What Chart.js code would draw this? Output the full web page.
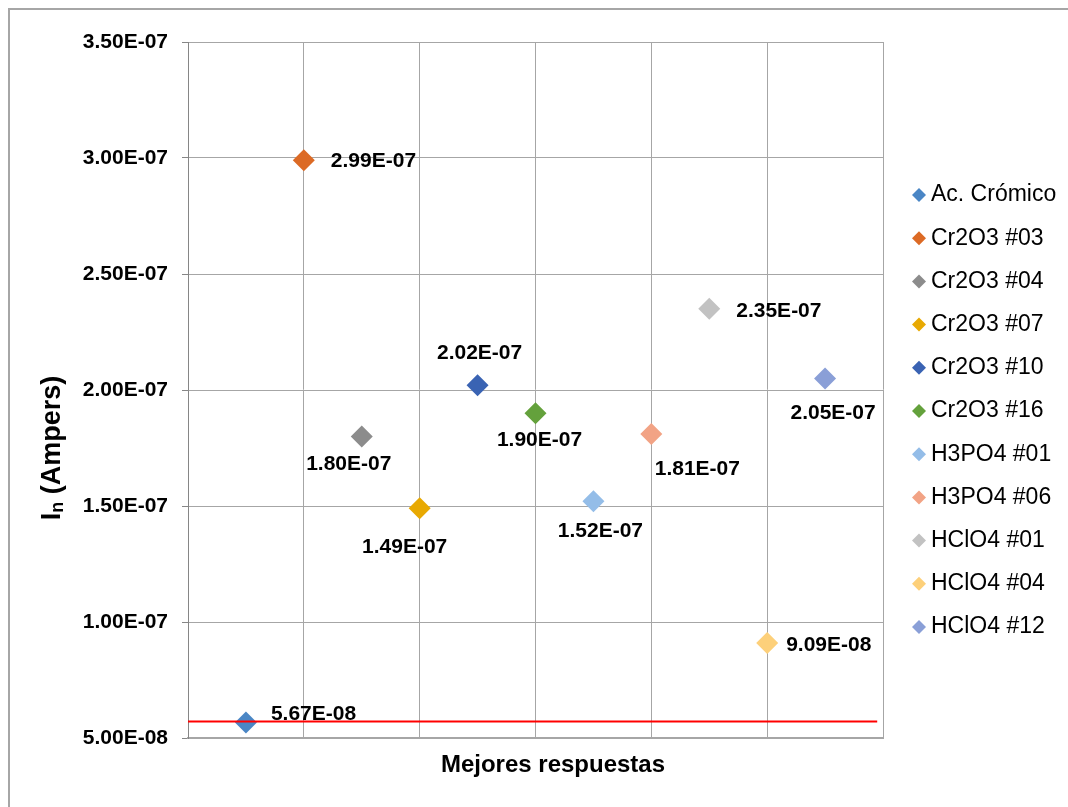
<!DOCTYPE html>
<html lang="es">
<head>
  <meta charset="UTF-8" />
  <title>Mejores respuestas</title>
  <script src="https://cdn.jsdelivr.net/npm/chart.js"></script>
  <style>
    body {
      margin: 0;
      background: #ffffff;
    }
    canvas {
      display: block;
    }
  </style>
</head>
<body>
  <canvas id="grafico" width="1068" height="807"></canvas>

  <script>
    // datos
    const series = ['Ac. Crómico', 'Cr2O3 #03', 'Cr2O3 #04', 'Cr2O3 #07', 'Cr2O3 #10', 'Cr2O3 #16',
                    'H3PO4 #01', 'H3PO4 #06', 'HClO4 #01', 'HClO4 #04', 'HClO4 #12'];
    const posX = [0.5, 1, 1.5, 2, 2.5, 3, 3.5, 4, 4.5, 5, 5.5];
    const corriente = [5.67e-8, 2.99e-7, 1.80e-7, 1.49e-7, 2.02e-7, 1.90e-7, 1.52e-7, 1.81e-7, 2.35e-7, 9.09e-8, 2.05e-7];
    const limiteX = [0, 5.95];
    const limiteY = [5.71e-8, 5.71e-8];
    const ejeY = { min: 5e-8, max: 3.5e-7, paso: 5e-8 };

    const colores = ['#4a86c5', '#dc6a25', '#8c8c8c', '#e8a902', '#3a63b3', '#64a13c',
                     '#94bde8', '#f2a385', '#c2c2c2', '#fdd07a', '#8a9fd7'];

    // donde va cada etiqueta respecto a su punto: dx, dy, alineacion
    const etiquetas = [
      [25, -8, 'left'], [27, 1, 'left'], [-13, 28, 'center'], [-15, 39, 'center'],
      [2, -32, 'center'], [4, 27, 'center'], [7, 30, 'center'], [46, 35, 'center'],
      [27, 2, 'left'], [19, 2, 'left'], [8, 35, 'center']
    ];

    const FUENTE = '"Liberation Sans", Arial, sans-serif';

    function formatoE(v) {
      const partes = v.toExponential(2).split('e');
      const n = parseInt(partes[1], 10);
      return partes[0] + 'E' + (n < 0 ? '-' : '+') + String(Math.abs(n)).padStart(2, '0');
    }

    function rombo(ctx, x, y, r, color) {
      ctx.beginPath();
      ctx.moveTo(x - r, y);
      ctx.lineTo(x, y - r);
      ctx.lineTo(x + r, y);
      ctx.lineTo(x, y + r);
      ctx.closePath();
      ctx.fillStyle = color;
      ctx.fill();
    }

    const datasets = [{
      label: 'limite',
      type: 'line',
      data: limiteX.map((x, i) => ({ x: x, y: limiteY[i] })),
      borderColor: '#ff0000',
      borderWidth: 2,
      pointRadius: 0,
      showLine: true,
      order: -1
    }];
    series.forEach((nombre, i) => {
      datasets.push({
        label: nombre,
        data: [{ x: posX[i], y: corriente[i] }],
        backgroundColor: colores[i],
        borderColor: colores[i],
        borderWidth: 0,
        pointStyle: 'rectRot',
        pointRadius: 11,
        pointHoverRadius: 11
      });
    });

    const extras = {
      id: 'extras',
      afterDatasetsDraw(chart) {
        const ctx = chart.ctx;
        ctx.save();
        ctx.font = 'bold 21px ' + FUENTE;
        ctx.fillStyle = '#000000';
        ctx.textBaseline = 'middle';
        series.forEach((nombre, i) => {
          const p = chart.getDatasetMeta(i + 1).data[0];
          const e = etiquetas[i];
          ctx.textAlign = e[2];
          ctx.fillText(formatoE(corriente[i]), p.x + e[0], p.y + e[1]);
        });
        ctx.restore();
      },
      afterDraw(chart) {
        const ctx = chart.ctx;
        const area = chart.chartArea;
        ctx.save();

        // marco del grafico
        ctx.strokeStyle = '#a6a6a6';
        ctx.lineWidth = 2;
        ctx.strokeRect(9, 9, 1100, 850);

        // titulo eje X
        ctx.fillStyle = '#000000';
        ctx.font = 'bold 24px ' + FUENTE;
        ctx.textAlign = 'center';
        ctx.textBaseline = 'middle';
        ctx.fillText('Mejores respuestas', 553, 765);

        // titulo eje Y con subindice
        const grande = 'bold 27px ' + FUENTE;
        const chica = 'bold 18px ' + FUENTE;
        ctx.font = grande;
        const wI = ctx.measureText('I').width;
        const wResto = ctx.measureText(' (Ampers)').width;
        ctx.font = chica;
        const wN = ctx.measureText('n').width;
        const total = wI + wN + wResto;
        ctx.translate(60, 448);
        ctx.rotate(-Math.PI / 2);
        ctx.textAlign = 'left';
        ctx.textBaseline = 'alphabetic';
        let x0 = -total / 2;
        ctx.font = grande;
        ctx.fillText('I', x0, 0);
        x0 += wI;
        ctx.font = chica;
        ctx.fillText('n', x0, 3);
        x0 += wN;
        ctx.font = grande;
        ctx.fillText(' (Ampers)', x0, 0);
        ctx.setTransform(1, 0, 0, 1, 0, 0);

        // leyenda
        ctx.font = '23px ' + FUENTE;
        ctx.textAlign = 'left';
        ctx.textBaseline = 'middle';
        series.forEach((nombre, i) => {
          const cy = 195 + i * 43.2;
          rombo(ctx, 919, cy, 7, colores[i]);
          ctx.fillStyle = '#000000';
          ctx.fillText(nombre, 931, cy);
        });
        ctx.restore();
      }
    };

    const chart = new Chart(document.getElementById('grafico'), {
      type: 'scatter',
      data: { datasets: datasets },
      options: {
        responsive: false,
        animation: false,
        devicePixelRatio: 1,
        layout: { padding: { top: 42, right: 185, bottom: 69, left: 0 } },
        plugins: {
          legend: { display: false },
          tooltip: { enabled: false }
        },
        scales: {
          x: {
            type: 'linear',
            min: 0,
            max: 6,
            ticks: { display: false, stepSize: 1 },
            grid: { color: '#a6a6a6', lineWidth: 1, drawTicks: false },
            border: { color: '#a6a6a6', width: 2 },
            afterFit(scale) { scale.height = 0; }
          },
          y: {
            min: ejeY.min,
            max: ejeY.max,
            ticks: {
              stepSize: ejeY.paso,
              padding: 14,
              color: '#000000',
              font: { family: FUENTE, size: 21, weight: 'bold' },
              callback: v => formatoE(v)
            },
            grid: { color: '#a6a6a6', lineWidth: 1, tickLength: 6, tickColor: '#868686' },
            border: { color: '#868686', width: 1 },
            afterFit(scale) { scale.width = 188; }
          }
        }
      },
      plugins: [extras]
    });
  </script>
</body>
</html>
